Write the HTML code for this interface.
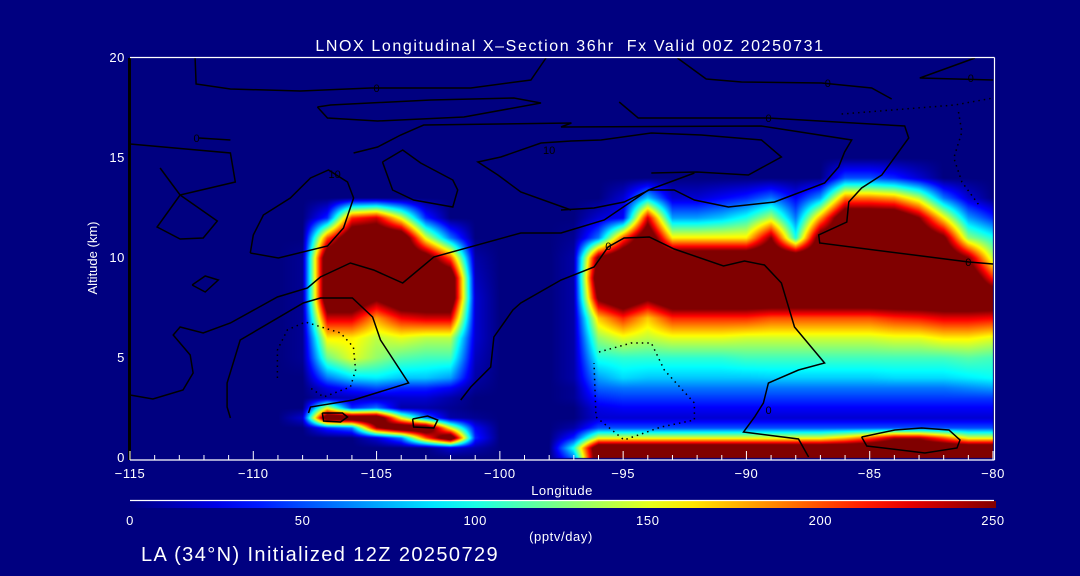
<!DOCTYPE html>
<html><head><meta charset="utf-8">
<style>
html,body{margin:0;padding:0;background:#000080;}
#wrap{position:relative;width:1080px;height:576px;background:#000080;overflow:hidden;font-family:"Liberation Sans",sans-serif;color:#fff;}
canvas{position:absolute;left:0;top:0;}
svg{position:absolute;left:0;top:0;}
</style></head>
<body>
<div id="wrap">
<canvas id="heat" width="1080" height="576"></canvas>
<svg id="ov" width="1080" height="576">
<text x="570" y="51" font-size="16" text-anchor="middle" fill="#fff" letter-spacing="1.6" style="white-space:pre">LNOX Longitudinal X–Section 36hr  Fx Valid 00Z 20250731</text>
<text x="562" y="495" font-size="13" text-anchor="middle" fill="#fff" letter-spacing="0.5">Longitude</text>
<text transform="translate(97,258) rotate(-90)" font-size="13" text-anchor="middle" fill="#fff">Altitude (km)</text>
<text x="561" y="541" font-size="13" text-anchor="middle" fill="#fff" letter-spacing="0.6">(pptv/day)</text>
<text x="141" y="561" font-size="20" fill="#fff" letter-spacing="1.4">LA (34°N) Initialized 12Z 20250729</text>
<g id="contours"></g>
<g id="axes"></g>
<g id="cbar"></g>
</svg>
</div>
<script>
// ---- data ----
const lons = [-115,-114,-113,-112,-111,-110,-109,-108,-107,-106,-105,-104,-103,-102,-101,-100,-99,-98,-97,-96,-95,-94,-93,-92,-91,-90,-89,-88,-87,-86,-85,-84,-83,-82,-81,-80];
const alts = [20,15,14,13,12,11,10,9,8,7,6,5,4,3.5,3,2.5,2,1.5,1,0.5,0];
const r20 = [0,0,0,0,0,0,0,0,0,0,0,0,0,0,0,0,0,0,0,0,0,0,0,0,0,0,0,0,0,0,0,0,0,0,0,0];
const r15 = [0,0,0,0,0,0,0,0,0,0,0,0,0,0,0,0,0,0,0,0,0,0,0,0,0,0,0,0,0,0,0,0,0,0,0,0];
const r14 = [0,0,0,0,0,0,0,0,0,0,0,0,0,0,0,0,0,0,0,0,0,0,0,0,0,0,0,0,0,50,50,40,20,0,0,0];
const r13 = [0,0,0,0,0,0,0,0,0,0,0,0,0,0,0,0,0,0,0,0,20,80,20,20,30,40,60,30,70,190,190,180,140,60,20,0];
const r12 = [0,0,0,0,0,0,0,0,40,210,230,150,40,0,0,0,0,0,0,20,30,230,70,70,80,100,140,60,180,300,300,300,250,160,70,40];
const r11 = [0,0,0,0,0,0,0,0,200,300,300,300,150,60,0,0,0,0,5,60,200,300,160,160,160,160,250,100,280,300,300,300,300,260,130,100];
const r10 = [0,0,0,0,0,0,0,5,300,300,300,300,280,200,10,0,0,0,10,260,300,300,300,300,300,300,300,300,300,300,300,300,300,300,250,140];
const r9 = [0,0,0,0,0,0,0,5,300,300,300,300,300,300,15,0,0,0,10,300,300,300,300,300,300,300,300,300,300,300,300,300,300,300,300,210];
const r8 = [0,0,0,0,0,0,0,5,300,300,260,300,300,300,20,0,0,0,10,260,300,260,300,300,300,300,300,300,300,300,300,300,300,300,300,300];
const r7 = [0,0,0,0,0,0,0,5,230,230,180,220,230,230,20,0,0,0,10,170,210,170,210,210,210,210,200,200,200,200,200,210,215,225,225,220];
const r6 = [0,0,0,0,0,0,0,5,160,160,140,150,140,140,20,0,0,0,10,130,150,140,150,150,150,145,145,145,145,145,145,150,150,160,160,150];
const r5 = [0,0,0,0,0,0,0,5,120,150,130,115,110,110,15,0,0,0,10,100,105,105,105,105,105,110,110,110,110,110,110,110,110,110,115,110];
const r4 = [0,0,0,0,0,0,0,0,60,85,90,80,80,70,10,0,0,0,10,70,85,80,80,80,80,80,82,82,82,82,82,85,85,85,90,95];
const r35 = [0,0,0,0,0,0,0,0,25,40,50,40,40,30,5,0,0,0,5,55,60,60,60,60,60,60,60,60,60,60,60,60,60,60,65,70];
const r3 = [0,0,0,0,0,0,0,0,10,15,15,20,20,10,0,0,0,0,5,40,45,45,45,45,45,45,45,45,45,45,45,45,45,45,45,45];
const r25 = [0,0,0,0,0,0,0,0,150,40,60,10,10,5,0,0,0,0,0,25,30,30,30,30,30,30,30,30,30,30,30,30,30,30,30,30];
const r2 = [0,0,0,0,0,0,0,20,300,300,300,150,60,10,5,0,0,0,0,20,20,20,20,20,20,20,20,20,20,20,20,20,20,20,20,20];
const r15b = [0,0,0,0,0,0,0,0,40,60,240,300,300,150,30,0,0,0,10,50,50,50,50,50,50,50,50,50,50,50,50,50,50,50,50,50];
const r1 = [0,0,0,0,0,0,0,0,0,0,20,60,200,300,40,0,0,0,40,150,150,150,150,150,150,150,150,150,150,170,200,240,240,200,150,150];
const r05 = [0,0,0,0,0,0,0,0,0,0,0,0,0,20,10,0,0,0,100,300,300,300,300,300,300,300,300,300,300,300,300,300,300,300,300,300];
const r0 = [0,0,0,0,0,0,0,0,0,0,0,0,0,0,0,0,0,0,60,300,300,300,300,300,300,300,300,300,300,300,300,300,300,300,300,300];
const grid = [r20,r15,r14,r13,r12,r11,r10,r9,r8,r7,r6,r5,r4,r35,r3,r25,r2,r15b,r1,r05,r0];
const xTicks = [-115,-110,-105,-100,-95,-90,-85,-80];
const yTicks = [0,5,10,15,20];
const cbTicks = [0,50,100,150,200,250];
const vmin = 0, vmax = 250;
// contours [lon,alt]
const solidContours = [
 [[-112.36,20],[-112.32,18.7],[-110.93,18.45],[-108.09,18.35],[-105.24,18.5],[-101.18,18.5],[-98.74,18.9],[-98.13,20]],
 [[-107.4,17.55],[-106.99,17.0],[-104.96,16.85],[-101.46,17.05],[-98.33,17.75],[-99.43,18.0],[-102.8,17.9],[-106.87,17.65],[-107.4,17.55]],
 [[-92.8,20],[-91.63,18.95],[-90.2,18.8],[-86.95,18.75],[-84.92,18.5],[-84.11,17.95]],
 [[-95.16,17.8],[-94.39,17.0],[-89.11,17.0],[-83.58,16.6],[-83.42,16.0],[-84.51,14.15],[-85.33,13.5],[-85.85,12.8],[-85.93,11.8],[-87.07,11.15],[-87.03,10.75],[-80.98,9.8],[-80,9.7]],
 [[-105.93,15.25],[-104.96,15.55],[-104.02,16.15],[-103.09,16.65],[-97.1,16.75],[-97.52,16.55],[-89.39,16.6],[-85.73,15.9],[-86.02,15.3],[-86.26,14.55],[-86.83,13.75],[-88.86,12.8],[-90.73,12.55],[-92.11,12.9],[-92.93,13.4],[-93.94,13.4],[-94.96,12.8],[-96.18,12.5],[-97.52,12.4]],
 [[-97.11,12.4],[-99.15,13.3],[-100.08,14.15],[-100.89,14.8],[-99.96,15.05],[-98.33,15.75],[-97.11,15.85],[-95.9,15.9],[-93.86,16.25],[-91.83,16.15],[-89.39,15.9],[-88.58,15.05],[-89.92,14.15],[-92.0,14.3],[-93.86,14.25]],
 [[-115,3.15],[-114.07,2.95],[-112.85,3.4],[-112.44,4.25],[-112.56,5.15],[-113.25,6.15],[-112.97,6.55],[-112.03,6.25],[-110.93,6.75],[-109.02,8.05],[-107.8,8.5],[-107.28,9.05],[-106.06,9.75],[-105.12,9.4],[-103.94,8.75],[-102.68,10.05],[-99.15,11.25],[-97.52,11.25],[-95.77,11.9],[-93.98,13.4],[-92.11,14.25]],
 [[-101.59,2.9],[-101.18,3.55],[-100.37,4.55],[-100.24,6.05],[-99.47,7.4],[-99.15,7.75],[-97.52,8.9],[-96.18,9.55],[-95.61,10.55],[-94.96,11.0],[-93.94,11.05],[-92.93,10.45],[-90.93,9.6],[-90.08,9.85],[-89.27,9.65],[-88.58,8.75],[-88.05,6.55],[-86.83,4.75],[-87.89,4.4],[-89.11,3.75],[-89.31,2.75],[-89.67,2.05],[-90.12,1.3],[-87.89,0.95],[-87.48,0.05]],
 [[-110.93,2.0],[-111.06,2.55],[-111.06,3.75],[-110.53,5.9],[-107.97,7.75],[-107.28,8.0],[-105.98,8.0],[-105.16,7.05],[-104.84,5.9],[-103.7,3.75],[-105.94,2.9],[-107.68,2.55],[-107.76,2.25]],
 [[-85.33,1.05],[-83.98,1.4],[-82.89,1.5],[-81.79,1.4],[-81.34,0.9],[-81.46,0.5],[-82.76,0.25],[-85.12,0.6],[-85.33,1.05]],
 [[-115,15.7],[-110.93,15.25],[-110.73,13.8],[-112.97,13.15]],
 [[-112.97,13.15],[-113.9,11.55],[-112.97,10.95],[-112.03,11.0],[-111.46,11.85],[-112.97,13.15]],
 [[-113.78,14.5],[-113.3,13.7],[-112.97,13.15]],
 [[-110.12,10.25],[-108.98,10.0],[-106.99,10.6],[-106.34,11.5],[-105.93,13.0],[-106.18,13.8],[-106.95,14.4],[-107.68,14.0],[-108.5,13.0],[-109.59,12.15],[-110.0,11.15],[-110.12,10.25]],
 [[-104.76,14.8],[-103.94,15.4],[-103.21,14.75],[-101.91,13.9],[-101.71,13.4],[-101.91,12.55],[-103.5,12.9],[-104.35,13.4],[-104.76,14.8]],
 [[-112.48,8.65],[-111.95,9.1],[-111.42,8.9],[-111.95,8.3],[-112.48,8.65]],
 [[-107.2,2.25],[-106.38,2.25],[-106.18,2.05],[-106.46,1.8],[-107.15,1.85],[-107.2,2.25]],
 [[-103.54,1.95],[-102.93,2.1],[-102.52,1.9],[-102.68,1.5],[-103.5,1.55],[-103.54,1.95]],
 [[-80.73,20],[-82.97,19.0],[-80,18.9]],
 [[-112.2,16.0],[-110.93,15.9]]
];
const dottedContours = [
 [[-109.02,4.0],[-109.02,5.4],[-108.62,6.4],[-107.89,6.8],[-106.46,6.25],[-105.94,5.55],[-105.85,4.4],[-106.06,3.55],[-107.15,3.05],[-107.68,3.5]],
 [[-95.98,5.3],[-94.67,5.75],[-93.86,5.75],[-93.33,4.4],[-92.11,2.75],[-92.11,1.9],[-93.46,1.55],[-94.96,0.9],[-96.1,2.05],[-96.18,4.75]],
 [[-86.14,17.2],[-81.54,17.65],[-80,18.0]],
 [[-81.4,17.3],[-81.26,16.3],[-81.59,15.0],[-81.26,13.8],[-80.57,12.65]]
];
const contourLabels = [[-105.0,18.5,'0'],[-86.7,18.75,'0'],[-89.1,17.0,'0'],[-95.6,10.6,'0'],[-81.0,9.8,'0'],[-80.9,19.0,'0'],[-112.3,16.0,'0'],[-89.1,2.4,'0'],[-98.0,15.4,'10'],[-106.7,14.2,'10']];

// ---- axes ----
const X0=130, X1=993, Y0=458, Y1=58;
function xs(lon){return X0+(lon-(-115))/(35)*(X1-X0);}
function ys(alt){return Y0-(alt/20)*(Y0-Y1);}
function jet(v){
  let t=(v-vmin)/(vmax-vmin); t=Math.max(0,Math.min(1,t));
  const c=a=>Math.round(255*Math.max(0,Math.min(1,1.5-Math.abs(4*t-a))));
  return [c(3),c(2),c(1)];
}
// ---- heatmap ----
const cv=document.getElementById('heat'); const ctx=cv.getContext('2d');
ctx.fillStyle='#000080'; ctx.fillRect(0,0,1080,576);
const W=X1-X0, H=Y0-Y1;
const img=ctx.createImageData(W,H);
for(let py=0;py<H;py++){
  const alt=(Y0-(Y1+py+0.5))/(Y0-Y1)*20;
  let i=0; while(i<alts.length-2 && alts[i+1]>alt) i++;
  const fa=(alts[i]-alt)/(alts[i]-alts[i+1]);
  for(let px=0;px<W;px++){
    const lon=-115+(px+0.5)/W*35;
    let j=Math.min(lons.length-2,Math.max(0,Math.floor(lon+115)));
    const fl=(lon-lons[j])/(lons[j+1]-lons[j]);
    const a=grid[i][j]*(1-fl)+grid[i][j+1]*fl;
    const b=grid[i+1][j]*(1-fl)+grid[i+1][j+1]*fl;
    const v=a*(1-fa)+b*fa;
    const c=jet(v); const k=(py*W+px)*4;
    img.data[k]=c[0]; img.data[k+1]=c[1]; img.data[k+2]=c[2]; img.data[k+3]=255;
  }
}
ctx.putImageData(img,X0,Y1);
// ---- svg overlay ----
const NS='http://www.w3.org/2000/svg';
function mk(tag,attrs,parent){const e=document.createElementNS(NS,tag);for(const k in attrs)e.setAttribute(k,attrs[k]);parent.appendChild(e);return e;}
const cg=document.getElementById('contours');
solidContours.forEach(function(c){
  const p=mk('polyline',{points:c.map(q=>xs(q[0]).toFixed(1)+','+ys(q[1]).toFixed(1)).join(' '),fill:'none',stroke:'#000','stroke-width':1.5},cg);
  
  
});
dottedContours.forEach(function(c){
  const p=mk('polyline',{points:c.map(q=>xs(q[0]).toFixed(1)+','+ys(q[1]).toFixed(1)).join(' '),fill:'none',stroke:'#000','stroke-width':1.5,'stroke-dasharray':'1.5 4'},cg);
  
  
});
contourLabels.forEach(function(l){
  const t=mk('text',{x:xs(l[0]),y:ys(l[1])+4,'font-size':11,'text-anchor':'middle',fill:'#000'},cg);
  t.textContent=l[2];
  
  
});
const ag=document.getElementById('axes');
let e;
e=mk('line',{x1:X0-0.5,y1:Y1,x2:X0-0.5,y2:Y0+2,stroke:'#000','stroke-width':3},ag);
 
e=mk('line',{x1:X0,y1:Y1-0.5,x2:X1+1.5,y2:Y1-0.5,stroke:'#fff','stroke-width':1.2},ag);
 
e=mk('line',{x1:X1+1.5,y1:Y1-0.5,x2:X1+1.5,y2:Y0+2,stroke:'#fff','stroke-width':1.2},ag);
 
e=mk('line',{x1:X0,y1:Y0+2,x2:X1+1.5,y2:Y0+2,stroke:'#fff','stroke-width':1.2},ag);
 
for(let lon=-115;lon<=-80;lon++){
  const major=(lon%5===0);
  e=mk('line',{x1:xs(lon),y1:Y0+2,x2:xs(lon),y2:Y0+2-(major?9:5),stroke:'#fff','stroke-width':1},ag);
   
}
xTicks.forEach(function(v){
  const t=mk('text',{x:xs(v),y:Y0+20,'font-size':13,'text-anchor':'middle',fill:'#fff','letter-spacing':0.6},ag);
  t.textContent=(v<0?'\u2212'+Math.abs(v):String(v));
   
});
yTicks.forEach(function(v){
  const t=mk('text',{x:X0-5,y:ys(v)+4,'font-size':13,'text-anchor':'end',fill:'#fff','letter-spacing':0.6},ag);
  t.textContent=String(v);
   
});
// colorbar
const cb=document.getElementById('cbar');
const defs=mk('defs',{},cb);
const lg=mk('linearGradient',{id:'jetg',x1:0,y1:0,x2:1,y2:0},defs);
for(let s=0;s<=20;s++){const c=jet(vmin+(vmax-vmin)*s/20);mk('stop',{offset:(s/20),'stop-color':'rgb('+c.join(',')+')'},lg);}
const CB0=130, CB1=996;
e=mk('rect',{x:CB0,y:501,width:CB1-CB0,height:7,fill:'url(#jetg)'},cb);
 
e=mk('line',{x1:CB0,y1:500.5,x2:X1+1,y2:500.5,stroke:'#fff','stroke-width':1.2},cb);
 
cbTicks.forEach(function(v){
  const t=mk('text',{x:CB0+(v-vmin)/(vmax-vmin)*(CB1-CB0-3),y:525,'font-size':13,'text-anchor':'middle',fill:'#fff','letter-spacing':0.6},cb);
  t.textContent=String(v);
   
});
</script>
</body></html>
